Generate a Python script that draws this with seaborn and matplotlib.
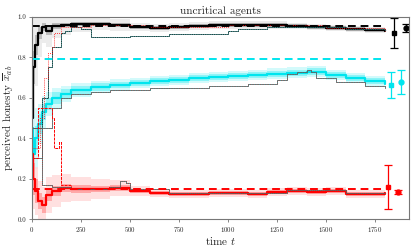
import numpy as np
import pandas as pd
import matplotlib
matplotlib.use("Agg")
import matplotlib.pyplot as plt
import seaborn as sns

# mean trajectories (time, perceived honesty)
t_mean = [0, 5, 15, 30, 50, 70, 100, 150, 200, 300, 400, 500, 600, 700, 800, 900,
          1000, 1100, 1200, 1300, 1400, 1500, 1600, 1700, 1800]
black_mean = [0.50, 0.75, 0.86, 0.92, 0.95, 0.93, 0.955, 0.96, 0.965, 0.965, 0.96, 0.95,
              0.945, 0.95, 0.955, 0.958, 0.96, 0.96, 0.958, 0.955, 0.95, 0.945, 0.94, 0.935, 0.93]
cyan_mean = [0.45, 0.32, 0.40, 0.47, 0.53, 0.57, 0.60, 0.62, 0.64, 0.655, 0.665, 0.675,
             0.685, 0.69, 0.70, 0.705, 0.71, 0.715, 0.72, 0.725, 0.73, 0.715, 0.70, 0.685, 0.668]
red_mean = [0.32, 0.20, 0.14, 0.09, 0.07, 0.12, 0.14, 0.155, 0.15, 0.15, 0.155, 0.14,
            0.13, 0.125, 0.125, 0.128, 0.13, 0.125, 0.135, 0.14, 0.135, 0.14, 0.125, 0.125, 0.13]

# spread of runs (half width of inner and outer bands)
black_inner = [0.10, 0.08, 0.05, 0.03, 0.02, 0.02, 0.015, 0.012, 0.012, 0.01, 0.01, 0.01,
               0.01, 0.01, 0.01, 0.01, 0.01, 0.01, 0.01, 0.01, 0.01, 0.01, 0.01, 0.01, 0.01]
black_outer = [0.40, 0.30, 0.20, 0.12, 0.08, 0.08, 0.06, 0.05, 0.04, 0.03, 0.03, 0.02,
               0.02, 0.02, 0.02, 0.02, 0.02, 0.02, 0.02, 0.015, 0.015, 0.015, 0.015, 0.015, 0.015]
cyan_inner = [0.10, 0.08, 0.06, 0.05, 0.04, 0.03, 0.03, 0.025, 0.02, 0.02, 0.015, 0.015,
              0.015, 0.015, 0.015, 0.015, 0.015, 0.015, 0.015, 0.015, 0.015, 0.015, 0.015, 0.015, 0.015]
cyan_outer = [0.25, 0.20, 0.15, 0.10, 0.08, 0.06, 0.05, 0.04, 0.035, 0.03, 0.03, 0.025,
              0.025, 0.025, 0.025, 0.025, 0.025, 0.025, 0.025, 0.025, 0.025, 0.025, 0.025, 0.025, 0.02]
red_inner = [0.10, 0.08, 0.06, 0.04, 0.04, 0.03, 0.025, 0.02, 0.02, 0.015, 0.015, 0.01,
             0.01, 0.01, 0.01, 0.01, 0.01, 0.01, 0.01, 0.01, 0.01, 0.01, 0.01, 0.01, 0.01]
red_outer = [0.20, 0.15, 0.12, 0.10, 0.09, 0.09, 0.08, 0.07, 0.06, 0.05, 0.04, 0.025,
             0.02, 0.02, 0.02, 0.02, 0.02, 0.02, 0.02, 0.02, 0.02, 0.02, 0.02, 0.02, 0.015]

# single runs (step lines)
run1_t = [0, 50, 80, 100, 150, 170, 200, 250, 300, 500, 700, 1000, 1050, 1200, 1400, 1600, 1800]
run1_y = [0.45, 0.60, 0.75, 0.85, 0.92, 0.93, 0.95, 0.94, 0.90, 0.905, 0.915, 0.93, 0.94, 0.95, 0.95, 0.94, 0.93]
run2_t = [0, 50, 100, 150, 200, 300, 400, 500, 600, 900, 1100, 1250, 1300, 1350, 1400, 1420, 1450, 1550, 1700, 1800]
run2_y = [0.30, 0.45, 0.55, 0.60, 0.62, 0.63, 0.64, 0.64, 0.65, 0.66, 0.67, 0.69, 0.72, 0.73, 0.74, 0.73, 0.70, 0.68, 0.66, 0.65]
run3_t = [0, 50, 100, 200, 400, 450, 480, 500, 700, 1000, 1300, 1600, 1800]
run3_y = [0.45, 0.17, 0.16, 0.15, 0.16, 0.19, 0.18, 0.15, 0.13, 0.13, 0.145, 0.13, 0.13]
run4_t = [0, 40, 60, 80, 100, 110, 150, 300, 600, 1000, 1500, 1800]
run4_y = [0.35, 0.50, 0.70, 0.82, 0.85, 0.92, 0.95, 0.96, 0.95, 0.96, 0.945, 0.93]
run5_t = [0, 30, 60, 100, 110, 140, 150, 200]
run5_y = [0.30, 0.55, 0.55, 0.50, 0.35, 0.38, 0.17, 0.16]

# reference levels and final estimates
ref_levels = [0.955, 0.79, 0.15]
sq_x = [1847, 1832, 1816]
sq_y = [0.922, 0.663, 0.16]
sq_err = [0.075, 0.065, 0.11]
ci_x = [1908, 1883, 1867]
ci_y = [0.947, 0.68, 0.134]
ci_err = [0.02, 0.06, 0.012]

colors = ["black", "#00e5ee", "red"]
band_inner = ["#b0b0b0", "#7ff3f7", "#ff9999"]
band_outer = ["#e8e8e8", "#c9f9fb", "#ffd9d9"]
run_color = "#2e7d7d"

sns.set_style("ticks")
plt.rcParams["font.family"] = ["cmr10", "DejaVu Serif"]
plt.rcParams["mathtext.fontset"] = "cm"
plt.rcParams["axes.formatter.use_mathtext"] = True

fig = plt.figure(figsize=(4.15, 2.49), dpi=100)
ax = fig.add_axes([0.077, 0.12, 0.909, 0.812])

tt = np.array(t_mean)
means = [black_mean, cyan_mean, red_mean]
inners = [black_inner, cyan_inner, red_inner]
outers = [black_outer, cyan_outer, red_outer]
for m, i_w, o_w, c, ci, co in zip(means, inners, outers, colors, band_inner, band_outer):
    m = np.array(m)
    ax.fill_between(tt, np.clip(m - np.array(o_w), 0, 1), np.clip(m + np.array(o_w), 0, 1),
                    color=co, lw=0, step="post", alpha=0.8)
    ax.fill_between(tt, m - np.array(i_w), m + np.array(i_w), color=ci, lw=0, step="post", alpha=0.8)

for m, c in zip(means, colors):
    df = pd.DataFrame({"t": t_mean, "y": m})
    sns.lineplot(data=df, x="t", y="y", ax=ax, color=c, lw=1.6, drawstyle="steps-post")

# single runs: teal solid with dotted overlay
ax.step(run1_t, run1_y, where="post", color=run_color, lw=0.6)
ax.step(run1_t, run1_y, where="post", color="black", lw=0.4, ls=(0, (2, 2)))
ax.step(run2_t, run2_y, where="post", color=run_color, lw=0.6)
ax.step(run2_t, run2_y, where="post", color="red", lw=0.4, ls=(0, (1, 2)))
ax.step(run3_t, run3_y, where="post", color=run_color, lw=0.6)
ax.step(run3_t, run3_y, where="post", color="red", lw=0.5, ls=(0, (1, 2)))
ax.step(run4_t, run4_y, where="post", color="red", lw=0.6, ls=(0, (1, 1.5)))
ax.step(run5_t, run5_y, where="post", color="red", lw=0.7, ls=(0, (3, 1)))

for lvl, c in zip(ref_levels, colors):
    ax.plot([0, 1800], [lvl, lvl], color=c, lw=1.4, ls=(0, (4, 2.5)))

for x, y, e, c in zip(sq_x, sq_y, sq_err, colors):
    ax.errorbar(x, y, yerr=e, fmt="s", color=c, ms=3.5, capsize=3, elinewidth=0.9, capthick=0.9)
for x, y, e, c in zip(ci_x, ci_y, ci_err, colors):
    ax.errorbar(x, y, yerr=e, fmt="o", color=c, ms=3.5, capsize=3, elinewidth=0.9, capthick=0.9)

ax.set_xlim(0, 1923)
ax.set_ylim(0, 1.0)
ax.set_xticks([0, 250, 500, 750, 1000, 1250, 1500, 1750])
ax.set_yticks([0.0, 0.2, 0.4, 0.6, 0.8, 1.0])
ax.set_yticklabels(["0.0", "0.2", "0.4", "0.6", "0.8", "1.0"])
ax.tick_params(labelsize=5, length=2, width=0.5, pad=2, color="#555555")
for s in ax.spines.values():
    s.set_color("#777777")
    s.set_linewidth(0.8)
ax.set_xlabel("time $t$", fontsize=8, labelpad=1)
ax.set_ylabel(r"perceived honesty $\overline{x}_{ab}$", fontsize=8, labelpad=2)
ax.set_title("uncritical agents", fontsize=8, pad=2)

fig.savefig("out.png", dpi=100)
